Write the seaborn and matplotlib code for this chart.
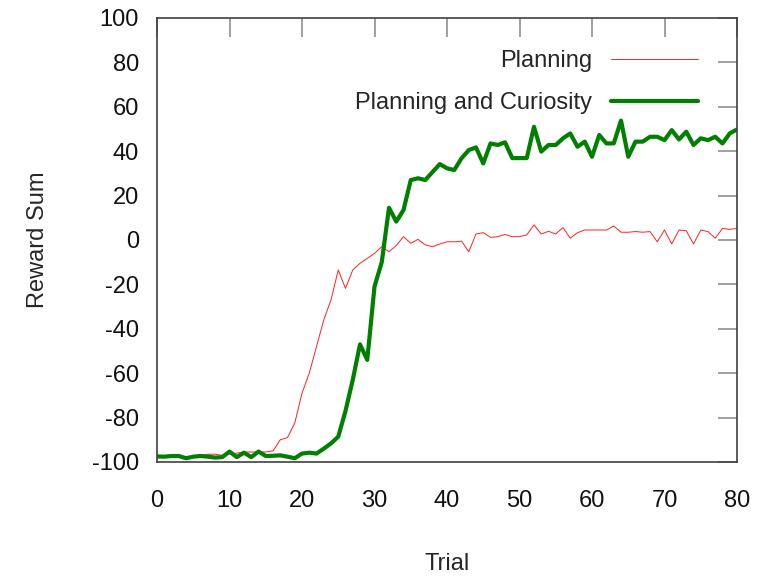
import numpy as np
import pandas as pd
import seaborn as sns
import matplotlib.pyplot as plt

# Reward sum per trial
trials = list(range(81))

planning = [
    -98, -97.5, -97, -97.5, -98, -97.5, -97, -96.5, -96.5, -97,
    -96.5, -96, -95.5, -95.5, -95.5, -95.5, -95, -90, -89, -82.5,
    -69, -60, -48, -36, -27, -13.5, -21.8, -13.5, -10.5, -8.3,
    -6, -3, -5.3, -2.5, 1.5, -1.5, 0.3, -2.2, -3, -1.8,
    -0.8, -0.8, -0.5, -5.3, 2.7, 3.3, 1.2, 1.5, 2.5, 1.5,
    1.5, 2.3, 6.8, 2.7, 3.9, 2.7, 5.6, 0.8, 3.3, 4.5,
    4.5, 4.5, 4.5, 6.3, 3.5, 3.5, 3.8, 3.5, 3.8, -0.8,
    4.5, -1.8, 4.5, 4.2, -1.8, 4.5, 3.8, 0.8, 5.2, 4.8,
    5.2,
]

curiosity = [
    -97.5, -97.6, -97.3, -97.3, -98.3, -97.6, -97.3, -97.6, -98, -97.8,
    -95.3, -97.8, -95.8, -97.8, -95.3, -97.3, -97.2, -97, -97.6, -98.3,
    -96.2, -95.8, -96.2, -94, -91.6, -88.6, -77, -63, -47, -54,
    -21, -10, 14.5, 8.3, 13.5, 27, 27.8, 27, 30.6, 34.2,
    32.3, 31.5, 36.8, 40.5, 41.7, 34.5, 43.5, 42.8, 44, 36.9,
    36.9, 36.9, 51, 39.8, 42.8, 42.8, 45.8, 48, 42, 44.3,
    37.5, 47.3, 43.5, 43.5, 53.8, 37.5, 44.3, 44.3, 46.5, 46.5,
    45, 49.5, 45.3, 48.8, 42.8, 45.8, 45, 46.5, 43.5, 48,
    49.8,
]

series_names = ['Planning', 'Planning and Curiosity']

df = pd.DataFrame({
    'Trial': trials * 2,
    'Reward Sum': planning + curiosity,
    'Method': [series_names[0]] * len(trials) + [series_names[1]] * len(trials),
})

sns.set_theme(style='white')
plt.rcParams['font.family'] = ['Liberation Sans', 'DejaVu Sans']
plt.rcParams['axes.unicode_minus'] = False

fig = plt.figure(figsize=(7.6, 5.76), dpi=100)
ax = fig.add_axes([157 / 760, 1 - 462 / 576, 580 / 760, 444 / 576])

sns.lineplot(data=df, x='Trial', y='Reward Sum', hue='Method', size='Method',
             sizes={series_names[0]: 0.7, series_names[1]: 3.0},
             palette={series_names[0]: '#ff2020', series_names[1]: '#008000'},
             ax=ax, legend=True)

ax.set_xlim(0, 80)
ax.set_ylim(-100, 100)
ax.set_xticks(range(0, 81, 10))
ax.set_yticks(range(-100, 101, 20))

for s in ax.spines.values():
    s.set_color('#404040')
    s.set_linewidth(1.2)

ax.tick_params(axis='both', which='major', direction='in', length=14, width=1.2,
               color='#909090', labelsize=17, labelcolor='#111111',
               top=True, right=True)
ax.tick_params(axis='y', pad=13)
ax.tick_params(axis='x', pad=20)

ax.set_xlabel('Trial', fontsize=17, labelpad=30)
ax.set_ylabel('Reward Sum', fontsize=17, labelpad=31)

handles, labels = ax.get_legend_handles_labels()
ax.legend(handles, labels, loc='upper right', frameon=False, fontsize=17,
          markerfirst=False, handlelength=3.7, handletextpad=0.8,
          bbox_to_anchor=(0.97, 0.975), labelspacing=0.85)

fig.savefig('out.png', dpi=100)
